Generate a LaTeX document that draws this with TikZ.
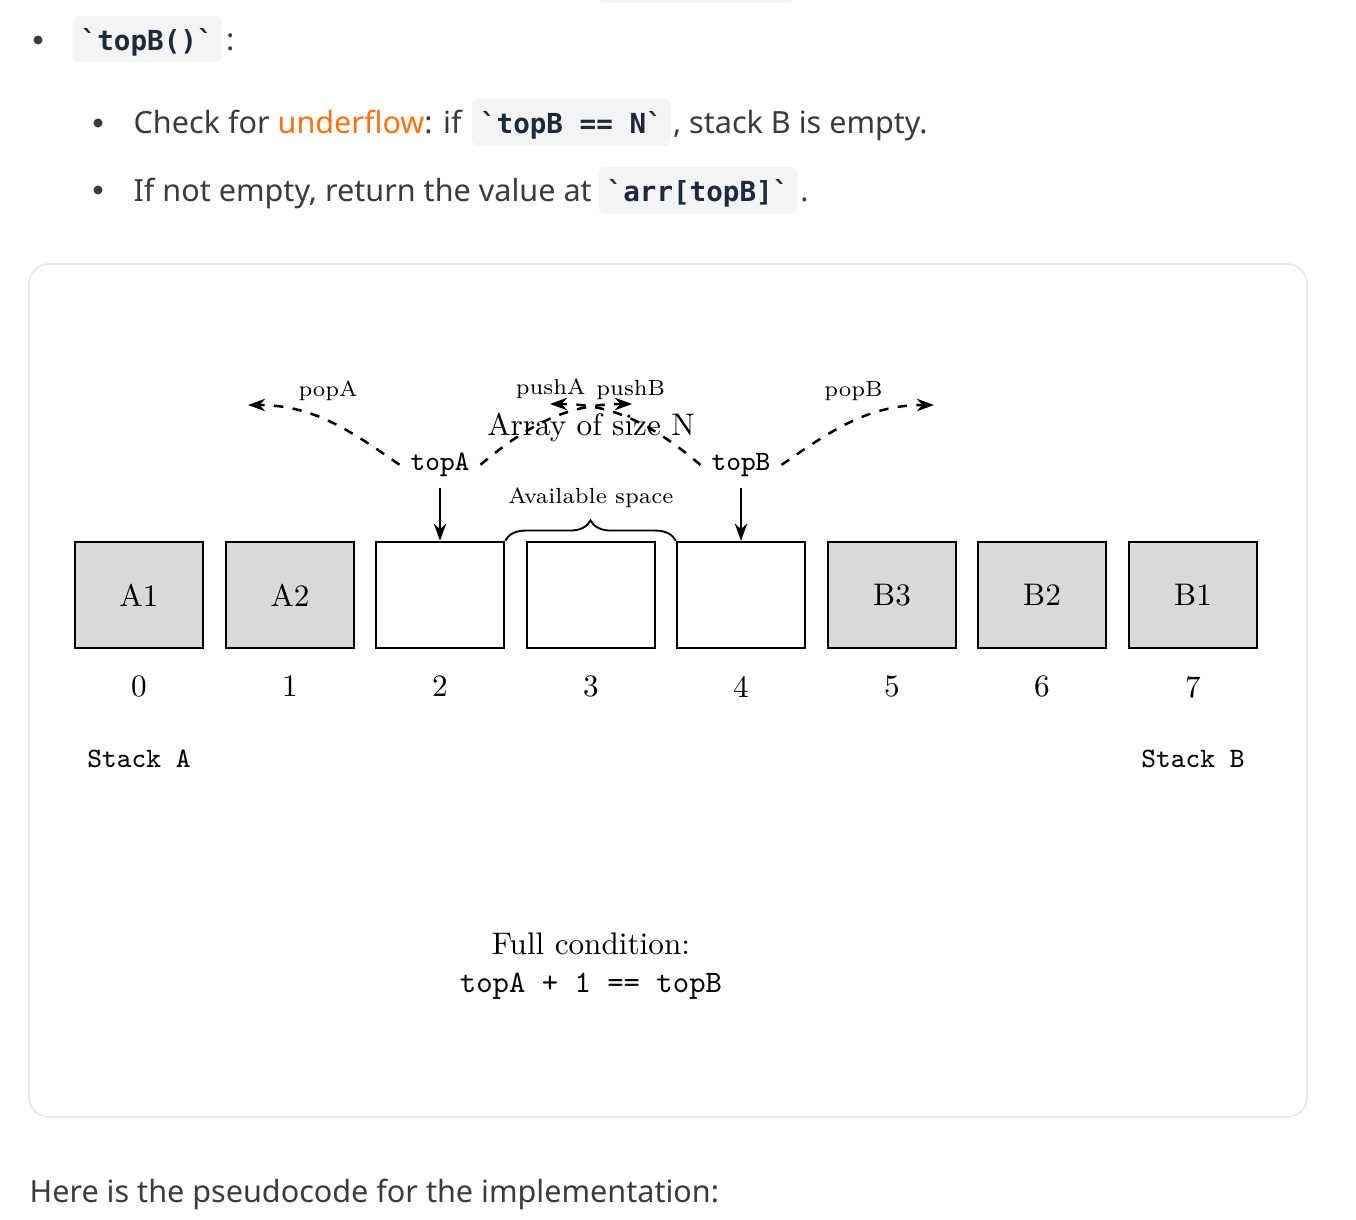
\documentclass[tikz,border=0pt]{standalone}
\usepackage{fontspec}
\newfontfamily\webfont{Noto Sans}
\newfontfamily\codefont{DejaVu Sans Mono}[Ligatures=TeXOff]
\usetikzlibrary{arrows.meta, positioning, decorations.pathreplacing}
\definecolor{bodytext}{HTML}{3A3A40}
\definecolor{codetext}{HTML}{1E293B}
\definecolor{codebg}{HTML}{F3F4F6}
\definecolor{linkorange}{HTML}{F97316}
\definecolor{framegray}{HTML}{E5E7EB}

\begin{document}
\begin{tikzpicture}[
    x=0.3205pt, y=0.3205pt,
    node distance=6pt,
    cell/.style={rectangle, draw, thick, minimum width=41pt, minimum height=34pt},
    filled/.style={cell, fill=gray!30},
    ptr/.style={font=\small\ttfamily},
    lbl/.style={font=\scriptsize},
    ptrarrow/.style={-{Stealth[length=5.5pt, width=4pt]}, thick},
    flow/.style={-{Stealth[length=5.5pt, width=4pt]}, thick, dashed},
    web/.style={font=\webfont\fontsize{9.8pt}{12pt}\selectfont, text=bodytext, inner sep=0pt, anchor=base west},
    code/.style={font=\codefont\bfseries\fontsize{8.84pt}{11pt}\selectfont, text=codetext, fill=codebg, rounded corners=2.2pt, inner xsep=2.6pt, inner ysep=0pt, text height=8pt, text depth=0.6pt, minimum height=15pt, anchor=base west},
    dot/.style={circle, fill=bodytext, inner sep=0pt, minimum size=2.9pt}
]
\useasboundingbox (0,0) rectangle (1356,-1220);

% Page text above the figure
\fill[codebg, rounded corners=2.2pt] (598,10) rectangle (795,-3);
\node[dot] (dot1) at (38,-40) {};
\node[code] (codeTopB) at (72,-50.5) {`topB()`};
\node[web, base right=1pt of codeTopB] (colon) {:};

\node[dot] (dot2) at (98,-123) {};
\node[web] (check) at (133,-134) {Check for \textcolor{linkorange}{underflow}: if};
\node[code, base right=2.9pt of check] (codeEq) {`topB == N`};
\node[web, base right=0.3pt of codeEq] (emptyB) {, stack B is empty.};

\node[dot] (dot3) at (98,-190) {};
\node[web] (notEmpty) at (133,-202) {If not empty, return the value at};
\node[code, base right=1.8pt of notEmpty] (codeArr) {`arr[topB]`};
\node[web, base right=0.5pt of codeArr] (period) {.};

% Figure frame
\draw[framegray, line width=0.5pt, rounded corners=6.4pt] (29,-264) rectangle (1307,-1117);

% Array cells
\node[filled] (c0) at (139,-595) {A1};
\node[filled] (c1) at (290,-595) {A2};
\node[cell] (c2) at (440,-595) {};
\node[cell] (c3) at (591,-595) {};
\node[cell] (c4) at (741,-595) {};
\node[filled] (c5) at (892,-595) {B3};
\node[filled] (c6) at (1042,-595) {B2};
\node[filled] (c7) at (1193,-595) {B1};

% Indices
\node[below=5pt of c0] (i0) {0};
\node[below=5pt of c1] (i1) {1};
\node[below=5pt of c2] (i2) {2};
\node[below=5pt of c3] (i3) {3};
\node[below=5pt of c4] (i4) {4};
\node[below=5pt of c5] (i5) {5};
\node[below=5pt of c6] (i6) {6};
\node[below=5pt of c7] (i7) {7};

\node[ptr] (stackA) at (139,-759) {Stack A};
\node[ptr] (stackB) at (1193,-759) {Stack B};

% Title and free space
\node (title) at (591,-428) {Array of size N};
\node[lbl] (avail) at (591,-498) {Available space};
\draw[semithick, decorate, decoration={brace, amplitude=6.5pt}] (c2.north east) -- (c4.north west);

% Top pointers
\node[ptr, above=17pt of c2] (topA) {topA};
\node[ptr, above=17pt of c4] (topB) {topB};
\draw[ptrarrow] (topA) -- (c2);
\draw[ptrarrow] (topB) -- (c4);

% Push / pop moves
\coordinate (popAend) at (248,-405);
\coordinate (pushAend) at (632,-404);
\coordinate (pushBend) at (550,-404);
\coordinate (popBend) at (934,-405);
\draw[flow] (topA.west) to[out=145, in=0] node[lbl, above=2.8pt] (popAlbl) {popA} (popAend);
\draw[flow] (topA.east) to[out=40, in=180] node[lbl, above=2.6pt] (pushAlbl) {pushA} (pushAend);
\draw[flow] (topB.west) to[out=140, in=0] node[lbl, above=2.6pt] (pushBlbl) {pushB} (pushBend);
\draw[flow] (topB.east) to[out=35, in=180] node[lbl, above=2.8pt] (popBlbl) {popB} (popBend);

% Full condition
\node[align=center] (fullcond) at (591,-966) {Full condition:\\\texttt{topA + 1 == topB}};

% Page text below the figure
\node[web] (pseudo) at (29,-1203) {Here is the pseudocode for the implementation:};
\end{tikzpicture}
\end{document}
